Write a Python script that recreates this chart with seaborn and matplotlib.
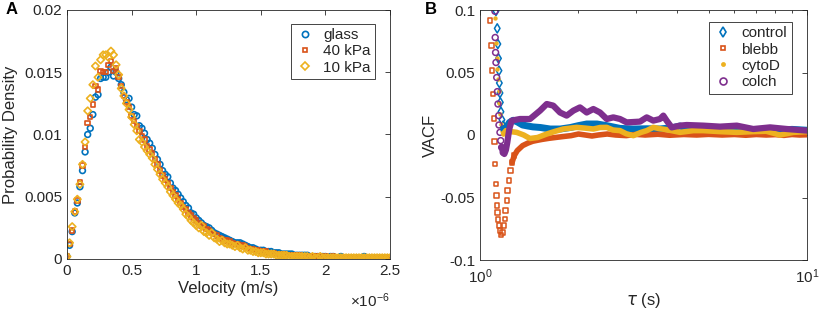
import numpy as np
import matplotlib
matplotlib.use('Agg')
import matplotlib.pyplot as plt
from matplotlib.lines import Line2D
from matplotlib.ticker import NullFormatter
import seaborn as sns

sns.set_style('white')
plt.rcParams['font.family'] = ['Liberation Sans', 'DejaVu Sans']
plt.rcParams['axes.unicode_minus'] = False
plt.rcParams['mathtext.default'] = 'regular'

# colours (MATLAB default order)
c_blue = '#0072BD'
c_red = '#D95319'
c_yel = '#EDB120'
c_pur = '#7E2F8E'
c_txt = '#262626'

# ---- panel A: velocity distributions (bins every 0.02e-6 m/s) ----
velocity = np.linspace(0, 2.5, 126) * 1e-6
pd_glass = [
    0.0002, 0.0011, 0.0022, 0.0037, 0.0045, 0.0058, 0.0071, 0.0086, 0.0100, 0.0105,
    0.0116, 0.0130, 0.0132, 0.0145, 0.0146, 0.0146, 0.0150, 0.0154, 0.0147, 0.0150,
    0.0145, 0.0140, 0.0134, 0.0128, 0.0129, 0.0122, 0.0116, 0.0115, 0.0107, 0.0105,
    0.0101, 0.0096, 0.0093, 0.0089, 0.0084, 0.0080, 0.0076, 0.0071, 0.0068, 0.0066,
    0.0061, 0.0057, 0.0055, 0.0052, 0.0049, 0.0046, 0.0043, 0.0041, 0.0037, 0.0036,
    0.0033, 0.0031, 0.0029, 0.0027, 0.0026, 0.0025, 0.0023, 0.0021, 0.0020, 0.0019,
    0.0018, 0.0017, 0.0016, 0.0015, 0.0014, 0.0013, 0.0013, 0.0013, 0.0012, 0.0011,
    0.0010, 0.0009, 0.0009, 0.0008, 0.0007, 0.0007, 0.0007, 0.0006, 0.0006, 0.0006,
    0.0005, 0.0005, 0.0005, 0.0004, 0.0004, 0.0004, 0.0004, 0.0004, 0.0003, 0.0003,
    0.0003, 0.0003, 0.0003, 0.0003, 0.0002, 0.0002, 0.0002, 0.0002, 0.0002, 0.0002,
    0.0002, 0.0001, 0.0002, 0.0002, 0.0001, 0.0001, 0.0002, 0.0001, 0.0001, 0.0001,
    0.0001, 0.0001, 0.0001, 0.0001, 0.0001, 0.0002, 0.0001, 0.0001, 0.0001, 0.0001,
    0.0001, 0.0001, 0.0001, 0.0001, 0.0001, 0.0001]
pd_40kpa = [
    0.0002, 0.0012, 0.0023, 0.0038, 0.0047, 0.0062, 0.0075, 0.0090, 0.0109, 0.0114,
    0.0124, 0.0139, 0.0136, 0.0151, 0.0150, 0.0150, 0.0156, 0.0159, 0.0151, 0.0153,
    0.0146, 0.0139, 0.0131, 0.0126, 0.0122, 0.0115, 0.0111, 0.0107, 0.0103, 0.0099,
    0.0096, 0.0091, 0.0088, 0.0085, 0.0080, 0.0076, 0.0071, 0.0067, 0.0064, 0.0061,
    0.0057, 0.0054, 0.0051, 0.0048, 0.0045, 0.0042, 0.0040, 0.0037, 0.0035, 0.0033,
    0.0031, 0.0029, 0.0027, 0.0026, 0.0024, 0.0023, 0.0021, 0.0020, 0.0019, 0.0017,
    0.0016, 0.0015, 0.0015, 0.0014, 0.0013, 0.0012, 0.0012, 0.0011, 0.0011, 0.0010,
    0.0009, 0.0008, 0.0008, 0.0007, 0.0007, 0.0006, 0.0006, 0.0006, 0.0005, 0.0005,
    0.0005, 0.0004, 0.0004, 0.0004, 0.0004, 0.0003, 0.0003, 0.0003, 0.0003, 0.0003,
    0.0003, 0.0002, 0.0002, 0.0002, 0.0002, 0.0002, 0.0002, 0.0002, 0.0002, 0.0001,
    0.0002, 0.0001, 0.0001, 0.0002, 0.0001, 0.0001, 0.0001, 0.0001, 0.0001, 0.0001,
    0.0001, 0.0001, 0.0001, 0.0001, 0.0001, 0.0001, 0.0001, 0.0001, 0.0001, 0.0001,
    0.0001, 0.0001, 0.0001, 0.0001, 0.0001, 0.0001]
pd_10kpa = [
    0.0002, 0.0013, 0.0026, 0.0038, 0.0048, 0.0060, 0.0076, 0.0094, 0.0119, 0.0129,
    0.0140, 0.0155, 0.0146, 0.0160, 0.0164, 0.0164, 0.0162, 0.0167, 0.0164, 0.0156,
    0.0148, 0.0137, 0.0131, 0.0125, 0.0120, 0.0114, 0.0108, 0.0103, 0.0096, 0.0094,
    0.0090, 0.0087, 0.0084, 0.0081, 0.0076, 0.0072, 0.0068, 0.0064, 0.0061, 0.0058,
    0.0054, 0.0051, 0.0048, 0.0045, 0.0043, 0.0040, 0.0036, 0.0034, 0.0031, 0.0029,
    0.0027, 0.0025, 0.0027, 0.0022, 0.0021, 0.0019, 0.0021, 0.0017, 0.0016, 0.0014,
    0.0015, 0.0013, 0.0012, 0.0012, 0.0011, 0.0010, 0.0011, 0.0009, 0.0008, 0.0009,
    0.0007, 0.0007, 0.0006, 0.0006, 0.0005, 0.0005, 0.0005, 0.0004, 0.0004, 0.0004,
    0.0004, 0.0003, 0.0003, 0.0003, 0.0003, 0.0003, 0.0002, 0.0002, 0.0002, 0.0002,
    0.0002, 0.0002, 0.0002, 0.0002, 0.0001, 0.0002, 0.0001, 0.0001, 0.0002, 0.0001,
    0.0001, 0.0001, 0.0001, 0.0001, 0.0001, 0.0001, 0.0001, 0.0001, 0.0001, 0.0001,
    0.0001, 0.0001, 0.0001, 0.0001, 0.0001, 0.0001, 0.0001, 0.0001, 0.0001, 0.0001,
    0.0001, 0.0001, 0.0001, 0.0001, 0.0001, 0.0001]

a_xticks = [0, 0.5e-6, 1e-6, 1.5e-6, 2e-6, 2.5e-6]
a_xlabels = ['0', '0.5', '1', '1.5', '2', '2.5']
a_yticks = [0, 0.005, 0.01, 0.015, 0.02]
a_ylabels = ['0', '0.005', '0.01', '0.015', '0.02']

# ---- panel B: VACF, sparse early points + dense later part ----
ctrl_tau_pts = [1.119, 1.129, 1.134, 1.139, 1.143, 1.146, 1.151, 1.154, 1.159, 1.167, 1.177]
ctrl_vacf_pts = [0.0992, 0.0853, 0.0728, 0.0613, 0.0515, 0.0416, 0.0336, 0.0261, 0.0186, 0.0122, 0.0075]
ctrl_tau = [1.18, 1.20, 1.23, 1.264, 1.30, 1.35, 1.40, 1.45, 1.53, 1.64,
            1.76, 1.89, 2.00, 2.12, 2.28, 2.44, 2.68, 2.94, 3.24, 3.55,
            3.90, 4.09, 4.39, 4.70, 5.40, 6.20, 7.20, 8.30, 9.00, 10.0]
ctrl_vacf = [0.005, 0.0055, 0.010, 0.0118, 0.0105, 0.008, 0.0072, 0.0065, 0.006, 0.0048,
             0.0048, 0.006, 0.0075, 0.0088, 0.0088, 0.0075, 0.0053, 0.0048, 0.005, 0.0048,
             0.006, 0.0072, 0.0045, 0.004, 0.0045, 0.0038, 0.0042, 0.0038, 0.0045, 0.0038]

blebb_tau_pts = [1.073, 1.085, 1.090, 1.097, 1.104, 1.106, 1.111, 1.119, 1.124, 1.128,
                 1.132, 1.136, 1.141, 1.149, 1.160, 1.173, 1.184, 1.190, 1.198, 1.207,
                 1.215, 1.224, 1.238, 1.253, 1.273]
blebb_vacf_pts = [0.0915, 0.0715, 0.0515, 0.0328, 0.0133, -0.0053, -0.0232, -0.039, -0.0485, -0.0565,
                  -0.062, -0.0677, -0.0725, -0.0765, -0.080, -0.078, -0.0725, -0.067, -0.0605, -0.0525,
                  -0.0445, -0.0365, -0.0285, -0.022, -0.0165]
blebb_tau = [1.253, 1.273, 1.30, 1.35, 1.40, 1.45, 1.50, 1.55, 1.62, 1.70,
             1.80, 1.90, 2.00, 2.10, 2.20, 2.30, 2.45, 2.60, 2.80, 3.00,
             3.20, 3.50, 3.80, 4.20, 4.60, 5.00, 5.50, 6.00, 6.50, 7.00,
             7.50, 8.00, 8.50, 9.00, 9.50, 10.0]
blebb_vacf = [-0.022, -0.0165, -0.0125, -0.0085, -0.0065, -0.005, -0.0042, -0.0035, -0.0027, -0.002,
              -0.0012, -0.0005, 0.0008, 0.0, -0.0008, 0.0, 0.0008, 0.0, -0.0005, 0.0005,
              0.0, 0.0006, -0.0002, 0.0004, 0.0, 0.0005, 0.0, 0.0004, -0.0002, 0.0004,
              0.0, 0.0003, -0.0003, 0.0004, 0.0, 0.0002]

cyto_tau_pts = [1.114, 1.119, 1.125, 1.130, 1.135, 1.141, 1.146, 1.154, 1.159, 1.168, 1.178]
cyto_vacf_pts = [0.094, 0.0733, 0.062, 0.053, 0.0448, 0.035, 0.0253, 0.0168, 0.0088, 0.0035, 0.0005]
cyto_tau = [1.18, 1.20, 1.22, 1.295, 1.36, 1.422, 1.50, 1.60, 1.70, 1.798,
            1.975, 2.10, 2.221, 2.33, 2.441, 2.55, 2.68, 2.80, 2.944, 3.10,
            3.235, 3.388, 3.55, 3.722, 4.089, 4.492, 4.818, 5.42, 6.10, 6.85,
            7.50, 8.27, 9.08, 10.0]
cyto_vacf = [0.001, 0.0035, 0.003, 0.0021, 0.0, -0.0028, -0.002, 0.0008, 0.003, 0.0048,
             0.0061, 0.0055, 0.0048, 0.006, 0.0061, 0.004, 0.0035, 0.001, -0.0005, 0.002,
             0.0035, 0.0061, 0.005, 0.0043, 0.0021, 0.0035, 0.0035, 0.0027, 0.0021, 0.0027,
             0.003, 0.0, 0.0021, 0.0027]

colch_tau_pts = [1.111, 1.113, 1.116, 1.119, 1.125, 1.130, 1.135, 1.141, 1.143, 1.151, 1.157, 1.165, 1.178]
colch_vacf_pts = [0.099, 0.078, 0.066, 0.058, 0.046, 0.0347, 0.0248, 0.0155, 0.008, 0.0021, -0.0045, -0.0099, -0.0139]
colch_tau = [1.165, 1.178, 1.187, 1.20, 1.212, 1.229, 1.250, 1.325, 1.422, 1.526,
             1.600, 1.675, 1.757, 1.841, 1.930, 2.022, 2.120, 2.221, 2.328, 2.441,
             2.557, 2.680, 2.809, 3.085, 3.235, 3.388, 3.552, 3.636, 3.722, 3.857,
             4.089, 4.287, 4.818, 5.42, 6.10, 6.85, 7.71, 8.67, 10.0]
colch_vacf = [-0.0099, -0.0139, -0.0152, -0.012, -0.0059, 0.0048, 0.0115, 0.0128, 0.0128, 0.0195,
              0.0248, 0.0235, 0.018, 0.0155, 0.0195, 0.0221, 0.018, 0.0208, 0.018, 0.0128,
              0.0141, 0.0128, 0.0101, 0.0107, 0.0141, 0.0115, 0.0128, 0.0155, 0.0115, 0.0061,
              0.0075, 0.008, 0.0075, 0.0067, 0.0075, 0.0048, 0.0061, 0.0048, 0.0035]

b_xticks = [1, 10]
b_xlabels = [r'$10^{0}$', r'$10^{1}$']
b_yticks = [-0.1, -0.05, 0, 0.05, 0.1]
b_ylabels = ['-0.1', '-0.05', '0', '0.05', '0.1']


def style_axes(ax):
    for s in ax.spines.values():
        s.set_color(c_txt)
        s.set_linewidth(0.6)
        s.set_visible(True)
    ax.tick_params(which='both', direction='in', top=True, right=True,
                   color=c_txt, labelcolor=c_txt, labelsize=11, width=0.6)
    ax.tick_params(which='major', length=3.5)
    ax.tick_params(which='minor', length=2)


fig = plt.figure(figsize=(8.31, 3.12), dpi=100)
ax1 = fig.add_axes([67 / 831, 53 / 312, 323 / 831, 249 / 312])
ax2 = fig.add_axes([480 / 831, 52 / 312, 327 / 831, 250 / 312])

# panel A
sns.scatterplot(x=velocity, y=pd_glass, marker='o', s=17, facecolor='none',
                edgecolor=c_blue, linewidth=1.2, ax=ax1)
sns.scatterplot(x=velocity, y=pd_40kpa, marker='s', s=10, facecolor='none',
                edgecolor=c_red, linewidth=1.2, ax=ax1)
sns.scatterplot(x=velocity, y=pd_10kpa, marker='D', s=14, facecolor='none',
                edgecolor=c_yel, linewidth=1.2, ax=ax1)
ax1.set_xlim(0, 2.5e-6)
ax1.set_ylim(0, 0.02)
ax1.set_xticks(a_xticks)
ax1.set_xticklabels(a_xlabels)
ax1.set_yticks(a_yticks)
ax1.set_yticklabels(a_ylabels)
ax1.set_xlabel('Velocity (m/s)', fontsize=12, color=c_txt, labelpad=2)
ax1.set_ylabel('Probability Density', fontsize=12, color=c_txt, labelpad=4)
style_axes(ax1)
ax1.text(1.0, -0.13, r'$\times 10^{-6}$', transform=ax1.transAxes,
         ha='right', va='top', fontsize=11, color=c_txt)
ax1.text(-0.19, 1.0, 'A', transform=ax1.transAxes, fontsize=12,
         fontweight='bold', va='center', color='black')

h_a = [Line2D([], [], ls='none', marker='o', ms=4.5, mfc='none', mec=c_blue, mew=1.2),
       Line2D([], [], ls='none', marker='s', ms=3.5, mfc='none', mec=c_red, mew=1.2),
       Line2D([], [], ls='none', marker='D', ms=4, mfc='none', mec=c_yel, mew=1.2)]
leg = ax1.legend(h_a, ['glass', '40 kPa', '10 kPa'], loc='upper right',
                 bbox_to_anchor=(0.978, 0.976), fontsize=11, frameon=True,
                 fancybox=False, framealpha=1, edgecolor=c_txt, handlelength=1.2,
                 handletextpad=0.6, borderpad=0.3, labelspacing=0.15)
leg.get_frame().set_linewidth(0.6)

# panel B
sns.lineplot(x=ctrl_tau, y=ctrl_vacf, color=c_blue, lw=5, estimator=None,
             sort=False, ax=ax2, solid_capstyle='round', solid_joinstyle='round')
sns.scatterplot(x=ctrl_tau_pts, y=ctrl_vacf_pts, marker='d', s=22, facecolor='none',
                edgecolor=c_blue, linewidth=1.1, ax=ax2)
sns.lineplot(x=blebb_tau, y=blebb_vacf, color=c_red, lw=4, estimator=None,
             sort=False, ax=ax2, solid_capstyle='round', solid_joinstyle='round')
sns.scatterplot(x=blebb_tau_pts, y=blebb_vacf_pts, marker='s', s=10, facecolor='none',
                edgecolor=c_red, linewidth=1.1, ax=ax2)
sns.lineplot(x=cyto_tau, y=cyto_vacf, color=c_yel, lw=4, estimator=None,
             sort=False, ax=ax2, solid_capstyle='round', solid_joinstyle='round')
sns.scatterplot(x=cyto_tau_pts, y=cyto_vacf_pts, marker='o', s=10, color=c_yel,
                edgecolor=c_yel, linewidth=0, ax=ax2)
sns.lineplot(x=colch_tau, y=colch_vacf, color=c_pur, lw=4.5, estimator=None,
             sort=False, ax=ax2, solid_capstyle='round', solid_joinstyle='round')
sns.scatterplot(x=colch_tau_pts, y=colch_vacf_pts, marker='o', s=18, facecolor='none',
                edgecolor=c_pur, linewidth=1.1, ax=ax2)
ax2.set_xscale('log')
ax2.set_xlim(1, 10)
ax2.set_ylim(-0.1, 0.1)
ax2.set_xticks(b_xticks)
ax2.set_xticklabels(b_xlabels)
ax2.xaxis.set_minor_formatter(NullFormatter())
ax2.set_yticks(b_yticks)
ax2.set_yticklabels(b_ylabels)
ax2.set_xlabel(r'$\mathit{\tau}$ (s)', fontsize=12, color=c_txt, labelpad=4)
ax2.set_ylabel('VACF', fontsize=12, color=c_txt, labelpad=2)
style_axes(ax2)
ax2.tick_params(axis='x', pad=5)
ax2.text(-0.17, 1.0, 'B', transform=ax2.transAxes, fontsize=12,
         fontweight='bold', va='center', color='black')

h_b = [Line2D([], [], ls='none', marker='d', ms=5.5, mfc='none', mec=c_blue, mew=1.2),
       Line2D([], [], ls='none', marker='s', ms=3.5, mfc='none', mec=c_red, mew=1.2),
       Line2D([], [], ls='none', marker='o', ms=3.5, mfc=c_yel, mec=c_yel, mew=0),
       Line2D([], [], ls='none', marker='o', ms=5, mfc='none', mec=c_pur, mew=1.2)]
leg2 = ax2.legend(h_b, ['control', 'blebb', 'cytoD', 'colch'], loc='upper right',
                  bbox_to_anchor=(0.976, 0.984), fontsize=11, frameon=True,
                  fancybox=False, framealpha=1, edgecolor=c_txt, handlelength=1.2,
                  handletextpad=0.6, borderpad=0.3, labelspacing=0.15)
leg2.get_frame().set_linewidth(0.6)

fig.savefig('out.png', dpi=100)
